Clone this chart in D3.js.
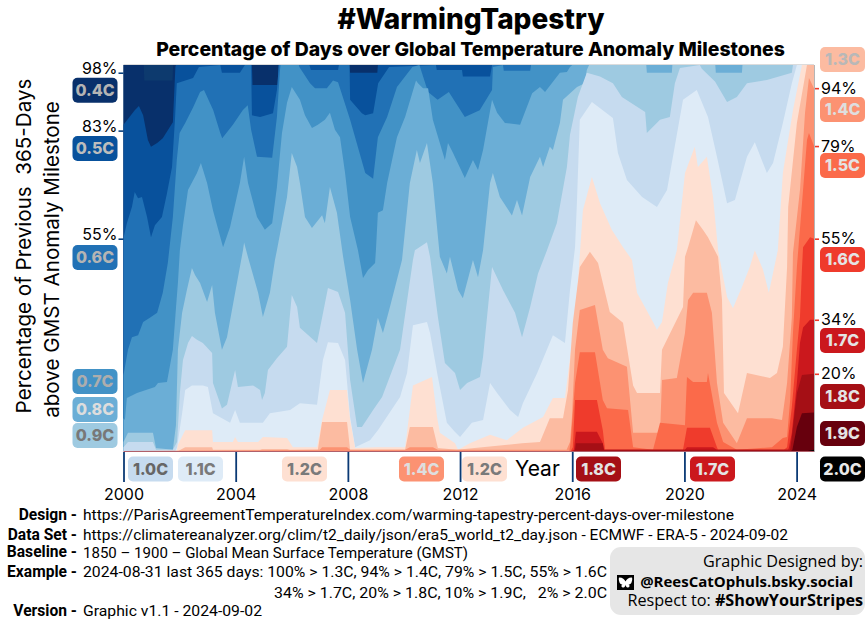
<!DOCTYPE html>
<html><head><meta charset="utf-8">
<script src="https://cdn.jsdelivr.net/npm/d3@7/dist/d3.min.js"></script>
<style>html,body{margin:0;padding:0;background:#fff}svg{display:block}</style>
</head><body><svg id="c" width="868" height="622"></svg>
<script>
// Percentage of previous 365 days above each milestone: [year, percent]
const END = 2024.62;
const m04=[[2000,100],[2000.72,100],[2000.74,96],[2001.75,96],[2001.77,100],[END,100]];
const m05=[[2000,84.5],[2000.4,88.3],[2000.55,89.4],[2000.7,87],[2000.87,80.6],[2000.98,78.8],[2001.2,79.8],[2001.4,81],[2001.76,85.2],[2001.85,99.5],[2001.87,100],[2004.58,100],[2004.6,94.8],[2005.5,94.8],[2005.52,100],[2008.05,100],[2008.08,98],[2009.05,98],[2009.07,100],[END,100]];
const m06=[[2000,55.2],[2000.12,59],[2000.3,63.2],[2000.4,67.1],[2000.52,65.5],[2000.66,65.8],[2000.84,60.6],[2000.98,55.4],[2001.12,58.5],[2001.37,60.6],[2001.55,66.8],[2001.73,73.6],[2001.84,86.5],[2001.9,95.3],[2002.48,96.6],[2002.69,99.5],[2003.45,100],[2003.51,98],[2004.15,98],[2004.33,100],[2004.55,100],[2004.58,87],[2004.87,86.5],[2005.33,87.5],[2005.47,93.5],[2005.54,100],[2006.63,100],[2006.68,98.7],[2007.65,98.7],[2007.68,100],[2008.06,100],[2008.08,91],[2008.5,87.5],[2008.62,87],[2008.9,87.5],[2009.08,95.3],[2009.47,99.5],[2011.14,100],[2011.17,98.7],[2012.07,98.7],[2012.1,97],[2013.07,97],[2013.14,100],[END,100]];
const m07=[[2000,19.7],[2000.16,26.2],[2000.3,29.5],[2000.52,30],[2000.7,33.4],[2000.94,34.5],[2001.2,35.8],[2001.4,41],[2001.58,48.7],[2001.76,60.6],[2001.9,75.4],[2002,82.4],[2002.2,85],[2002.48,89],[2002.73,93],[2002.87,93.5],[2003.2,88.3],[2003.45,82.4],[2003.52,81],[2003.9,84.5],[2004.25,88.3],[2004.43,89.6],[2004.55,83.2],[2004.76,76.2],[2005.3,76],[2005.47,86.5],[2005.58,98.7],[2005.6,100],[2006.25,100],[2006.27,99.5],[2006.65,95.3],[2006.83,94],[2007.25,94],[2007.47,96],[2007.65,95.5],[2008.08,85.8],[2008.62,72],[2008.9,70.5],[2009.07,81.3],[2009.4,86.5],[2009.75,94.3],[2010.3,99.5],[2010.55,100],[2010.86,93],[2011.2,91],[2011.6,93],[2012.17,86.5],[2012.7,88.3],[2013.14,93.5],[2013.17,99.5],[2013.53,100],[2013.56,98.5],[2014.5,98.5],[2014.53,100],[END,100]];
const m08=[[2000,8.5],[2000.05,8],[2000.12,13.7],[2000.48,15],[2001.12,16.6],[2001.23,17.6],[2001.55,17.9],[2001.76,26.2],[2001.87,37],[2001.94,43.5],[2002.01,52],[2002.12,58.5],[2002.3,67.6],[2002.62,72],[2002.76,74.6],[2002.98,69.4],[2003.19,62.4],[2003.55,52.8],[2003.8,58],[2004.15,69.4],[2004.3,76.2],[2004.44,69.4],[2004.76,60.6],[2005.04,57.3],[2005.3,59],[2005.47,68.4],[2005.65,82.4],[2005.83,90.2],[2006,94.3],[2006.29,91],[2006.47,87],[2006.72,83.7],[2006.93,84.5],[2007.18,85.8],[2007.36,87.6],[2007.54,83.2],[2007.72,81.3],[2007.9,72],[2008.08,60.6],[2008.36,52],[2008.54,44.8],[2008.72,46.9],[2008.97,48.7],[2009,52],[2009.07,61.7],[2009.25,62.4],[2009.4,69.4],[2009.75,81.3],[2010.04,86.5],[2010.43,96],[2010.5,95.3],[2010.68,94],[2010.86,94],[2011.03,85.8],[2011.46,75.4],[2011.57,79.8],[2011.75,77.2],[2012.17,70.7],[2012.46,75.4],[2012.64,72.8],[2012.82,78],[2013.14,91],[2013.32,87.6],[2013.6,85],[2014.14,84.5],[2014.57,92.7],[2014.85,94.3],[2015.03,93],[2015.56,98],[2015.81,98.2],[2015.92,99.5],[2016,100],[END,100]];
const m09=[[2000,2.3],[2000.16,4.7],[2001.05,4.7],[2001.16,0.8],[2001.76,0.3],[2001.87,6.7],[2001.94,26.2],[2002.09,35.8],[2002.26,41.7],[2002.44,47.4],[2002.55,45.6],[2002.73,43.5],[2002.98,38.6],[2003.16,43],[2003.26,35.8],[2003.51,26.2],[2003.69,29.5],[2003.98,41],[2004.26,52],[2004.3,54],[2004.44,50.2],[2004.8,41],[2004.97,34.7],[2005.22,41],[2005.4,49.5],[2005.47,52],[2005.83,65.8],[2006,77.2],[2006.19,73.6],[2006.29,69.4],[2006.47,60.6],[2006.72,57.8],[2007.08,61.1],[2007.18,59],[2007.36,68.4],[2007.61,61.7],[2007.83,50.3],[2008.08,39.1],[2008.33,26.2],[2008.54,17.6],[2008.86,26.2],[2009.07,34.5],[2009.25,30.6],[2009.5,37.3],[2009.93,49.5],[2010.21,69.4],[2010.46,78],[2010.57,74.6],[2010.82,79.8],[2011.03,69.4],[2011.28,50.3],[2011.53,46],[2011.64,50.3],[2011.93,41.7],[2012.1,39.6],[2012.46,49.5],[2012.64,45],[2012.82,52],[2013.07,69.4],[2013.17,72],[2013.42,65.8],[2013.85,61],[2014.03,65],[2014.21,61],[2014.5,71],[2014.85,76.2],[2014.96,73.6],[2015.2,78.8],[2015.31,78],[2015.56,85],[2015.67,91],[2016.17,94.3],[2016.45,95.3],[2016.52,98.7],[2016.6,100],[2018.64,100],[2018.66,98],[2019.55,98],[2019.57,100],[2021.1,100],[2021.12,98],[2022.05,98],[2022.07,100],[END,100]];
const m10=[[2000,1],[2000.16,2.3],[2001.05,2.3],[2001.16,0.3],[2001.76,0.3],[2001.91,2.3],[2002.01,15],[2002.12,23.6],[2002.3,28],[2002.44,29.8],[2002.62,28.8],[2002.83,28],[2003.16,25.4],[2003.19,17.6],[2003.51,11],[2003.69,12],[2003.87,17.6],[2003.98,21],[2004.08,16.6],[2004.62,17],[2004.87,15.8],[2004.94,13.2],[2005.04,15],[2005.15,21],[2005.47,24],[2005.83,27],[2006,40.4],[2006.19,37.3],[2006.29,31.9],[2006.9,28],[2007.08,34.5],[2007.29,42.2],[2007.65,41.2],[2007.9,35.8],[2008.08,18.4],[2008.33,6.2],[2008.5,6.2],[2008.9,10.6],[2009.22,14],[2009.86,26.2],[2010.32,49.5],[2010.39,52],[2010.82,54.1],[2010.93,50.3],[2011.21,34.7],[2011.46,22.8],[2011.82,20.2],[2012,15.8],[2012.25,17.6],[2012.71,19.2],[2012.82,24.4],[2013.14,47.7],[2013.53,41.7],[2013.96,35.8],[2014.21,29.5],[2014.5,37.3],[2014.78,46],[2015.1,52],[2015.45,59],[2015.81,73.6],[2015.92,81.9],[2016.2,91.7],[2016.52,98],[2016.99,97],[2017.45,95.3],[2017.77,91.7],[2018.6,87.8],[2018.66,82.4],[2019.13,85.8],[2019.48,86.5],[2019.66,95.3],[2019.84,99.2],[2020.55,100],[2020.62,99],[2021.09,95.7],[2021.52,90.4],[2021.87,91.7],[2022.23,95.3],[2022.94,96.1],[2023.83,98],[2023.87,100],[END,100]];
const m11=[[2000,0],[2001.85,0],[2001.91,1],[2002.09,9.8],[2002.2,15.8],[2002.44,17],[2002.83,17],[2003.01,16.6],[2003.19,9.8],[2003.8,7.3],[2003.98,10.6],[2004.15,7.3],[2004.97,7.3],[2005.22,9.8],[2005.94,10.6],[2006.29,12.4],[2006.9,12],[2007.11,23.6],[2007.29,28.2],[2007.65,28],[2007.9,23.6],[2008.08,8.8],[2008.26,1],[2008.79,2.8],[2009.07,5.4],[2009.86,14],[2010.11,20.2],[2010.32,32.6],[2010.82,33.4],[2010.93,30.6],[2011.21,19.2],[2011.53,7.3],[2011.82,4.9],[2012,3.6],[2012.42,7.3],[2012.82,8],[2013.07,17.6],[2013.32,15],[2013.78,10.6],[2014.07,8.8],[2014.24,12.4],[2014.75,20.2],[2015.31,30],[2015.74,28],[2015.92,41.7],[2016.1,52.8],[2016.17,65],[2016.27,85.8],[2016.7,90.4],[2017.45,86.3],[2017.63,77.2],[2017.95,70.2],[2018.49,65.8],[2019.02,63.2],[2019.38,67.6],[2019.55,74.6],[2019.95,91],[2020.44,93.5],[2020.84,86.5],[2021.16,76.2],[2021.52,64.2],[2021.8,65],[2022.23,76.2],[2022.51,80],[2022.94,72],[2023.16,74.6],[2023.51,85],[2023.83,95.3],[2024.01,100],[END,100]];
const m12=[[2000,0],[2001.9,0],[2001.94,1.6],[2002.2,5.4],[2003.16,5.4],[2003.19,2.3],[2003.9,2.3],[2003.98,3.6],[2004.08,2.3],[2004.8,2.3],[2004.97,3.6],[2005.83,3.4],[2006.04,1],[2006.9,1],[2007.08,8],[2007.36,15.8],[2007.97,15.8],[2008.08,8],[2008.26,0.8],[2009.04,1],[2010.04,1],[2010.32,17],[2011,19.2],[2011.18,8.8],[2011.28,4.7],[2011.82,2],[2011.93,0.3],[2012.35,2],[2013.07,4.2],[2013.67,2.8],[2014.24,6],[2014.96,8.8],[2015.31,13.7],[2015.74,13.7],[2015.99,28],[2016.2,43.5],[2016.38,62.4],[2016.7,71],[2016.99,64.2],[2017.41,57.3],[2017.81,52.8],[2018.13,49.5],[2018.31,41],[2018.88,33.4],[2019.02,31.4],[2019.2,33.4],[2019.41,43.5],[2019.73,52],[2020.02,72],[2020.37,78.8],[2020.48,73.6],[2020.8,76.2],[2021.02,65.8],[2021.2,52],[2021.52,39.9],[2021.73,37],[2022.05,42.5],[2022.33,47.7],[2022.51,52],[2022.8,47],[2023.01,41],[2023.33,52],[2023.51,72],[2023.87,88.3],[2024.19,100],[END,100]];
const m13=[[2000,0],[2001.95,0],[2002.2,1],[2003.16,1],[2003.19,0.3],[2004.87,0.3],[2004.94,0.5],[2005.83,0.5],[2005.94,0.3],[2006.93,0.3],[2007.08,7.5],[2007.97,7.5],[2008.08,0.3],[2010.04,0.3],[2010.21,6.2],[2011.03,6.2],[2011.21,0.8],[2011.89,0.3],[2014.21,2],[2014.85,2.3],[2015.2,8.5],[2015.67,8.5],[2015.85,15.8],[2016.02,33.2],[2016.27,47.7],[2016.63,51.6],[2016.92,48.7],[2017.09,43.5],[2017.34,36],[2017.81,33.2],[2018.17,17],[2018.31,15],[2019.13,15],[2019.2,26.2],[2019.95,37.3],[2020.02,50.3],[2020.13,52.8],[2020.41,59.8],[2020.66,57.3],[2020.84,55.4],[2021.2,50.3],[2021.34,39.1],[2021.41,15],[2021.91,9.8],[2022.23,20.2],[2023.05,18.9],[2023.3,20.2],[2023.51,27],[2023.66,47.7],[2023.7,63.2],[2024.01,85],[2024.37,100],[END,100]];
const m14=[[2000,0],[2007,0.3],[2007.08,1],[2007.97,1],[2008.08,0.3],[2010.04,0.3],[2010.21,1],[2011.03,1],[2011.21,0.3],[2015.8,0.3],[2015.92,2.3],[2015.99,8.8],[2016.1,26.2],[2016.27,36.5],[2016.81,37.8],[2017.09,26.2],[2017.27,24],[2017.95,21.8],[2018.17,4.7],[2019.13,4.7],[2019.2,18.4],[2019.73,18.9],[2020.02,30.6],[2020.13,39.1],[2020.31,41],[2020.8,41],[2020.98,35.8],[2021.16,17.6],[2021.38,7.3],[2021.87,2],[2022.23,8.5],[2023.12,8.5],[2023.48,8],[2023.66,17.6],[2023.83,34.7],[2023.87,51.3],[2024.12,67.6],[2024.3,87.6],[2024.44,96.6],[END,94]];
const m15=[[2000,0],[2015.9,0],[2015.95,2.8],[2016.1,17.6],[2016.27,25.6],[2016.81,25.6],[2017.09,13.2],[2017.24,11.1],[2017.99,10.6],[2018.17,1],[2018.88,0.3],[2019.13,7.3],[2020.02,6.7],[2020.09,19.2],[2020.31,17.9],[2020.8,17.9],[2020.84,20.2],[2021.16,7.3],[2021.38,2.3],[2021.87,0.3],[2023.12,1],[2023.51,3.4],[2023.66,3.6],[2023.77,13.2],[2023.87,30.6],[2024.01,47.7],[2024.23,67.6],[2024.37,80.6],[2024.44,82.4],[END,79]];
const m16=[[2000,0],[2015.95,0],[2016.02,1],[2016.1,13.2],[2016.88,13.2],[2017.09,5.4],[2017.17,0.3],[2019.95,0.3],[2020.09,6],[2020.91,6],[2021.16,1],[2021.2,0.3],[2023.55,0.3],[2023.66,1],[2023.83,11.4],[2024.01,26.2],[2024.12,34.7],[2024.19,47],[2024.23,52.8],[2024.48,55.4],[END,55]];
const m17=[[2000,0],[2015.97,0],[2016.06,0.3],[2016.13,5],[2016.88,5],[2017.09,2],[2017.13,0.3],[2020.02,0.3],[2020.09,1],[2021.02,1],[2021.16,0.3],[2023.7,0.3],[2023.73,1],[2023.83,4.7],[2024.01,17.6],[2024.12,28],[2024.23,32],[2024.48,34],[END,34]];
const m18=[[2000,0],[2016.05,0],[2016.1,0.3],[2016.13,2],[2017.09,2],[2017.13,0.3],[2023.77,0.3],[2023.83,3.6],[2024.01,15],[2024.19,19.7],[END,20]];
const m19=[[2000,0],[2023.8,0],[2023.85,0.3],[2024.01,6.2],[2024.19,9.8],[END,10]];
const m20=[[2000,0],[2024.4,0],[END,0.3]];

const series=[m04,m05,m06,m07,m08,m09,m10,m11,m12,m13,m14,m15,m16,m17,m18,m19,m20];
const milestoneNames=["0.4C","0.5C","0.6C","0.7C","0.8C","0.9C","1.0C","1.1C","1.2C","1.3C","1.4C","1.5C","1.6C","1.7C","1.8C","1.9C","2.0C"];
const milestoneColors=["#08306b","#08519c","#2171b5","#4292c6","#6baed6","#9ecae1","#c6dbef","#deebf7","#fee0d2","#fcbba1","#fc9272","#fb6a4a","#ef3b2c","#cb181d","#a50f15","#67000d","#000000"];
const labelInk=["#b4b4b4","#bdbdbd","#b4b4b4","#adadad","#dddddd","#787878","#666666","#7a7a7a","#7a7a7a","#b8b8b8","#dedede","#e4e4e4","#e4e4e4","#e4e4e4","#e4e4e4","#e4e4e4","#e8e8e8"];
const baseColor="#0d3a6e";
const yearTicks=[2000,2004,2008,2012,2016,2020,2024];
const leftTicks=[98,83,55];
const rightTicks=[94,79,55,34,20];

const svg=d3.select("#c");
const F='"Inter","Liberation Sans",sans-serif', R='Roboto,"Liberation Sans",sans-serif';
const x=d3.scaleLinear().domain([2000,END]).range([123.5,814]);
const y=d3.scaleLinear().domain([0,100]).range([451,65]);

svg.append("rect").attr("x",x(2000)).attr("y",y(100)).attr("width",x(END)-x(2000)).attr("height",y(0)-y(100)).attr("fill",baseColor);
const area=d3.area().x(d=>x(d[0])).y0(y(0)).y1(d=>y(d[1])).curve(d3.curveLinear);
svg.append("g").selectAll("path").data(series).join("path").attr("d",area).attr("fill",(d,i)=>milestoneColors[i]);

// frame
svg.append("line").attr("x1",x(2000)).attr("x2",x(END)).attr("y1",y(0)+.5).attr("y2",y(0)+.5).attr("stroke","#b0606a").attr("stroke-width",1);
svg.append("line").attr("x1",x(END)+.5).attr("x2",x(END)+.5).attr("y1",y(100)).attr("y2",y(0)+1).attr("stroke","#b5b5b5");
svg.append("line").attr("x1",x(2000)).attr("x2",x(END)).attr("y1",y(100)-.5).attr("y2",y(100)-.5).attr("stroke","#dcdcdc");

// x axis
const ax=svg.append("g").attr("transform",`translate(0,${y(0)+1})`).call(d3.axisBottom(x).tickValues(yearTicks).tickFormat(d3.format("d")).tickSize(30).tickPadding(7));
ax.select(".domain").remove();
ax.selectAll("line").attr("stroke","#0b3a75").attr("stroke-width",1.8);
ax.selectAll("text").attr("font-family",F).attr("font-size",16).attr("fill","#000");

// y ticks
const al=svg.append("g").attr("transform",`translate(${x(2000)},0)`).call(d3.axisLeft(y).tickValues(leftTicks).tickFormat(d=>d+"%").tickSize(5).tickPadding(1));
al.select(".domain").remove();
al.selectAll("line").attr("stroke","#08407f").attr("stroke-width",1.6);
al.selectAll("text").attr("font-family",F).attr("font-size",16).attr("fill","#000").attr("dy","0.05em");
const ar=svg.append("g").attr("transform",`translate(${x(END)+1},0)`).call(d3.axisRight(y).tickValues(rightTicks).tickFormat(d=>d+"%").tickSize(4).tickPadding(2));
ar.select(".domain").remove();
ar.selectAll("line").attr("stroke","#f03a2a").attr("stroke-width",1.6);
ar.selectAll("text").attr("font-family",F).attr("font-size",16).attr("fill","#000");

// milestone chips
const chipSlots=[
 ["0.4C",72.5,77.7],["0.5C",72.5,136],["0.6C",72.5,245],["0.7C",72.5,369],["0.8C",72.5,397],["0.9C",72.5,423],
 ["1.0C",128,456.5],["1.1C",178,456.5],["1.2C",282,456.5],["1.4C",399,456.5],["1.2C",462,456.5],["1.8C",576,456.5],["1.7C",690,456.5],
 ["1.3C",820,47],["1.4C",820,97],["1.5C",820,153],["1.6C",820,247],["1.7C",820,328],["1.8C",820,384],["1.9C",820,421],["2.0C",820,456.5]];
const chip=svg.append("g").selectAll("g").data(chipSlots).join("g").attr("transform",d=>`translate(${d[1]},${d[2]})`);
chip.append("rect").attr("width",45).attr("height",25).attr("rx",5).attr("fill",d=>milestoneColors[milestoneNames.indexOf(d[0])]);
chip.append("text").attr("x",22.5).attr("y",18.2).attr("text-anchor","middle").attr("font-family",F).attr("font-weight",800).attr("font-size",16)
 .attr("fill",d=>labelInk[milestoneNames.indexOf(d[0])]).text(d=>d[0]);

// titles
svg.append("text").attr("x",471).attr("y",29).attr("text-anchor","middle").attr("font-family",F).attr("font-weight",800).attr("font-size",28).text("#WarmingTapestry");
svg.append("text").attr("x",470.5).attr("y",56).attr("text-anchor","middle").attr("font-family",F).attr("font-weight",800).attr("font-size",19.4).text("Percentage of Days over Global Temperature Anomaly Milestones");
svg.append("text").attr("transform","translate(31,246) rotate(-90)").attr("text-anchor","middle").attr("font-family",F).attr("font-size",20.6).style("white-space","pre").text("Percentage of Previous  365-Days");
svg.append("text").attr("transform","translate(59,259.5) rotate(-90)").attr("text-anchor","middle").attr("font-family",F).attr("font-size",20.6).text("above GMST Anomaly Milestone");
svg.append("text").attr("x",515).attr("y",476).attr("font-family",F).attr("font-size",21).text("Year");

// footer
const footerKeys=[["Design -",520],["Data Set -",540],["Baseline -",557],["Example -",577],["Version -",616]];
svg.append("g").selectAll("text").data(footerKeys).join("text").attr("x",77).attr("y",d=>d[1]).attr("text-anchor","end").attr("font-family",R).attr("font-weight",700).attr("font-size",15.6).text(d=>d[0]);
const footerLines=[
 ["https://ParisAgreementTemperatureIndex.com/warming-tapestry-percent-days-over-milestone",83,520,"start",651],
 ["https://climatereanalyzer.org/clim/t2_daily/json/era5_world_t2_day.json - ECMWF - ERA-5 - 2024-09-02",83,540,"start",705],
 ["1850 – 1900 – Global Mean Surface Temperature (GMST)",83,558,"start",385],
 ["2024-08-31 last 365 days: 100% > 1.3C, 94% > 1.4C, 79% > 1.5C, 55% > 1.6C",83,577,"start",524],
 ["34% > 1.7C, 20% > 1.8C, 10% > 1.9C,   2% > 2.0C",607,598,"end",333],
 ["Graphic v1.1 - 2024-09-02",83,616,"start",179]];
svg.append("g").selectAll("text").data(footerLines).join("text").attr("x",d=>d[1]).attr("y",d=>d[2]).attr("text-anchor",d=>d[3]).attr("textLength",d=>d[4]).attr("lengthAdjust","spacingAndGlyphs").attr("font-family",R).attr("font-size",15).style("white-space","pre").text(d=>d[0]);

// credit
svg.append("rect").attr("x",610).attr("y",547).attr("width",255).attr("height",68).attr("rx",11).attr("fill","#e6e6e6");
svg.append("rect").attr("x",617).attr("y",575).attr("width",17).attr("height",15).attr("fill","#000");
svg.append("path").attr("transform","translate(625.5,582.5)").attr("fill","#fff").attr("d","M0,-1C-1,-3 -3,-5 -6,-5C-7,-5 -7,-3 -6,0C-5.5,1.5 -4,2 -3,2C-5,3 -4,5 -2,5C-1,5 0,3 0,2C0,3 1,5 2,5C4,5 5,3 3,2C4,2 5.5,1.5 6,0C7,-3 7,-5 6,-5C3,-5 1,-3 0,-1Z");
const L='"Open Sans","Noto Sans",sans-serif';
svg.append("text").attr("x",863).attr("y",567).attr("text-anchor","end").attr("font-family",L).attr("font-size",16.2).text("Graphic Designed by:");
svg.append("text").attr("x",853).attr("y",587).attr("text-anchor","end").attr("font-family",L).attr("font-weight",700).attr("font-size",15).text("@ReesCatOphuls.bsky.social");
const t3=svg.append("text").attr("x",863).attr("y",605.5).attr("text-anchor","end").attr("font-family",L).attr("font-size",16.2);
t3.append("tspan").text("Respect to: ");
t3.append("tspan").attr("font-weight",700).text("#ShowYourStripes");
</script></body></html>
